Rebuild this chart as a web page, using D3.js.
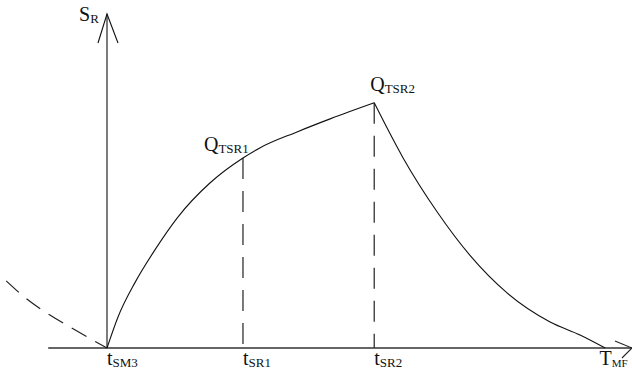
<!DOCTYPE html>
<html>
<head>
<meta charset="utf-8">
<script src="https://cdn.jsdelivr.net/npm/d3@7"></script>
<style>
  html, body { margin: 0; padding: 0; background: #fff; }
  svg { display: block; }
  text { font-family: "Liberation Serif", "Times New Roman", serif; fill: #111; }
</style>
</head>
<body>
<div id="chart-area"></div>
<script>
// time axis: tSM3 = 0, arrow tip = 100 ; S axis: 0 .. 100 (arrow tip)
var riseT = [0, 2.1, 5.3, 9.1, 13.5, 19.6, 25.9, 29.1, 36.2, 42.5, 50.9];
var riseS = [0, 9.3, 19.5, 29.3, 39.2, 49.4, 56.9, 59.9, 64.7, 68.6, 73.4];

var fallT = [50.9, 56.4, 62.9, 69.1, 76.2, 84.4, 90.1, 94.9];
var fallS = [73.4, 56.9, 40.7, 27.8, 16.5, 7.8, 3.9, 0];

var prevT = [-19.2, -16, -12.4, -7.4, -3.2, 0];
var prevS = [20.1, 15.6, 11.4, 6.6, 2.8, 0];

// marked instants on the time axis
var tickNames = ["SM3", "SR1", "SR2"];
var tickT = [0, 25.9, 50.9];
var tickS = [0, 56.9, 73.4];

var peakNames = ["TSR1", "TSR2"];
var peakT = [25.9, 50.9];
var peakS = [56.9, 73.4];

var axisStartT = -11.2;
var axisEndT = 100;
var axisTopS = 100;

var width = 632;
var height = 375;

var x = d3.scaleLinear().domain([0, 100]).range([107, 632]);
var y = d3.scaleLinear().domain([0, 100]).range([348, 14]);

var svg = d3.select("#chart-area")
	.append("svg")
	.attr("width", width)
	.attr("height", height);

function pts(ts, ss) {
	return ts.map(function(t, i){ return [t, ss[i]]; });
}

var line = d3.line()
	.x(function(d){ return x(d[0]); })
	.y(function(d){ return y(d[1]); })
	.curve(d3.curveMonotoneX);

// vertical dashed guides
svg.selectAll(".guide")
	.data(tickT.slice(1))
	.enter()
	.append("line")
	.attr("class", "guide")
	.attr("x1", function(d){ return x(d); })
	.attr("x2", function(d){ return x(d); })
	.attr("y1", function(d, i){ return y(tickS[i + 1]); })
	.attr("y2", y(0))
	.attr("stroke", "#333")
	.attr("stroke-width", 1.3)
	.attr("stroke-dasharray", "21,12");

// horizontal axis
svg.append("line")
	.attr("x1", x(axisStartT))
	.attr("x2", x(axisEndT))
	.attr("y1", y(0))
	.attr("y2", y(0))
	.attr("stroke", "#333")
	.attr("stroke-width", 1.7);

svg.append("path")
	.attr("d", "M" + (x(axisEndT) - 17) + "," + (y(0) - 7) + " L" + x(axisEndT) + "," + y(0)
		+ " L" + (x(axisEndT) - 10) + "," + (y(0) + 10))
	.attr("fill", "none")
	.attr("stroke", "#222")
	.attr("stroke-width", 1.1);

// vertical axis
svg.append("line")
	.attr("x1", x(0))
	.attr("x2", x(0))
	.attr("y1", y(0))
	.attr("y2", y(axisTopS))
	.attr("stroke", "#111")
	.attr("stroke-width", 1.1);

svg.append("path")
	.attr("d", "M" + (x(0) - 9) + "," + (y(axisTopS) + 29) + " L" + x(0) + "," + y(axisTopS)
		+ " L" + (x(0) + 11) + "," + (y(axisTopS) + 29))
	.attr("fill", "none")
	.attr("stroke", "#111")
	.attr("stroke-width", 1.1);

// curves
svg.append("path")
	.attr("d", line(pts(prevT, prevS)))
	.attr("fill", "none")
	.attr("stroke", "#222")
	.attr("stroke-width", 1.2)
	.attr("stroke-dasharray", "17,10");

svg.append("path")
	.attr("d", line(pts(riseT, riseS)))
	.attr("fill", "none")
	.attr("stroke", "#111")
	.attr("stroke-width", 1.1);

svg.append("path")
	.attr("d", line(pts(fallT, fallS)))
	.attr("fill", "none")
	.attr("stroke", "#111")
	.attr("stroke-width", 1.1);

// labels
function subLabel(px, py, main, sub, subSize) {
	var t = svg.append("text")
		.attr("x", px)
		.attr("y", py)
		.attr("font-size", 20);
	t.append("tspan").text(main);
	t.append("tspan")
		.attr("font-size", subSize || 13)
		.attr("dy", 2)
		.text(sub);
}

subLabel(x(0) - 28, y(axisTopS) + 7, "S", "R");

peakNames.forEach(function(name, i){
	subLabel(x(peakT[i]) - 39 + i * 35, y(peakS[i]) - 7 - i * 5, "Q", name);
});

tickNames.forEach(function(name, i){
	subLabel(x(tickT[i]), y(0) + 17, "t", name);
});

subLabel(x(93.8), y(0) + 17, "T", "MF", 11);
</script>
</body>
</html>
